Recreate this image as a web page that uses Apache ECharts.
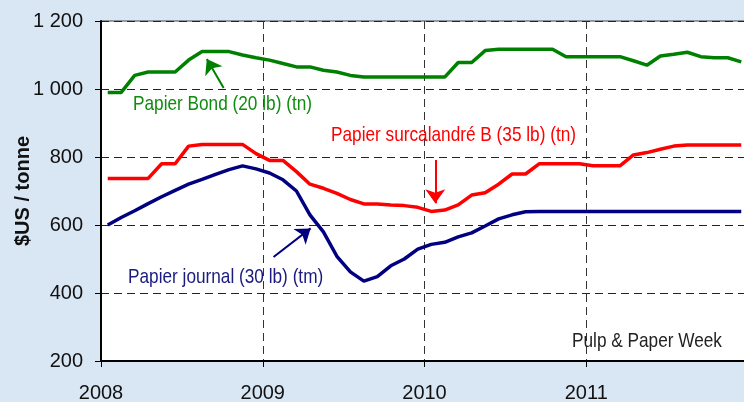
<!DOCTYPE html>
<html>
<head>
<meta charset="utf-8">
<script src="https://cdn.jsdelivr.net/npm/echarts@6/dist/echarts.min.js"></script>
<style>
  html, body { margin: 0; padding: 0; background: #d9e6f4; }
  #chart { width: 744px; height: 402px; }
</style>
</head>
<body>
<div id="chart"></div>
<script>
// prix mensuels, janvier 2008 -> décembre 2011
const bond = [990, 990, 1040, 1050, 1050, 1050, 1085, 1110, 1110, 1110, 1100, 1092,
  1085, 1075, 1065, 1065, 1055, 1050, 1040, 1035, 1035, 1035, 1035, 1035,
  1035, 1035, 1078, 1078, 1113, 1117, 1117, 1117, 1117, 1117, 1095, 1095,
  1095, 1095, 1095, 1083, 1070, 1097, 1102, 1108, 1095, 1092, 1092, 1080]
const surcalandre = [737, 737, 737, 737, 780, 780, 832, 837, 837, 837, 837, 810,
  790, 790, 757, 720, 708, 693, 675, 662, 662, 659, 657, 652,
  640, 644, 659, 688, 695, 720, 750, 750, 780, 780, 780, 780,
  774, 774, 774, 806, 813, 823, 832, 835, 835, 835, 835, 835]
const journal = [600, 622, 642, 663, 683, 702, 720, 734, 749, 763, 774, 765,
  753, 733, 700, 630, 580, 508, 462, 435, 448, 480, 500, 529,
  543, 549, 565, 577, 597, 618, 630, 639, 640, 640, 640, 640,
  640, 640, 640, 640, 640, 640, 640, 640, 640, 640, 640, 640]
const xTicks = ['2008', '2009', '2010', '2011', '']
const yTicks = ['200', '400', '600', '800', '1 000', '1 200']

// police condensée simulée (pas d'Arial Narrow installée)
const labelFont = '21px "Liberation Sans", Arial, sans-serif'

// point au milieu de chaque mois
const toPoints = arr => arr.map((v, i) => [i + 0.5, v])

const lineSeries = (name, data, color) => ({
  name: name,
  type: 'line',
  data: toPoints(data),
  symbol: 'none',
  lineStyle: { color: color, width: 3.5 },
  itemStyle: { color: color },
  z: 3
})

const arrow = (from, to, color) => ({
  silent: true,
  symbol: ['none', 'arrow'],
  symbolSize: [15, 14],
  label: { show: false },
  lineStyle: { color: color, width: 2, type: 'solid' },
  data: [[{ coord: from }, { coord: to }]]
})

const note = (text, x, y, color) => ({
  type: 'text',
  x: x,
  y: y,
  scaleX: 0.82,
  z: 10,
  style: { text: text, font: labelFont, fill: color, verticalAlign: 'top' }
})

const option = {
  backgroundColor: '#d9e6f4',
  animation: false,
  grid: {
    left: 101,
    right: -4,
    top: 21,
    bottom: 41,
    outerBoundsMode: 'none',
    containLabel: false,
    show: true,
    backgroundColor: '#ffffff',
    borderColor: '#444',
    borderWidth: 1
  },
  xAxis: {
    type: 'value',
    min: 0,
    max: 48,
    interval: 12,
    axisLine: { show: true, onZero: false, lineStyle: { color: '#000', width: 2 } },
    axisTick: { show: true, length: 6, lineStyle: { color: '#000' } },
    axisLabel: {
      margin: 22,
      fontSize: 20,
      fontFamily: 'Liberation Sans, Arial, sans-serif',
      color: '#111',
      formatter: v => xTicks[v / 12]
    },
    splitLine: {
      show: true,
      lineStyle: { color: '#333', width: 1, type: [8, 5] }
    }
  },
  yAxis: {
    type: 'value',
    min: 200,
    max: 1200,
    interval: 200,
    name: '$US / tonne',
    nameLocation: 'middle',
    nameGap: 68,
    nameMoveOverlap: false,
    nameTextStyle: {
      fontSize: 20,
      fontWeight: 'bold',
      fontFamily: 'Liberation Sans, Arial, sans-serif',
      color: '#111'
    },
    axisLine: { show: true, lineStyle: { color: '#000', width: 2 } },
    axisTick: { show: true, length: 6, lineStyle: { color: '#000' } },
    axisLabel: {
      margin: 18,
      fontSize: 20,
      fontFamily: 'Liberation Sans, Arial, sans-serif',
      color: '#111',
      formatter: v => yTicks[(v - 200) / 200]
    },
    splitLine: {
      show: true,
      lineStyle: { color: '#222', width: 1, type: [8, 5] }
    }
  },
  series: [
    Object.assign(lineSeries('Papier Bond (20 lb) (tn)', bond, '#008000'),
      { markLine: arrow([9.1, 1003], [7.85, 1088], '#008000') }),
    Object.assign(lineSeries('Papier surcalandré B (35 lb) (tn)', surcalandre, '#ff0000'),
      { markLine: arrow([24.8, 791], [24.8, 664], '#ff0000') }),
    Object.assign(lineSeries('Papier journal (30 lb) (tm)', journal, '#000080'),
      { markLine: arrow([12.8, 506], [15.55, 590], '#000080') })
  ],
  graphic: [
    note('Papier Bond (20 lb) (tn)', 133, 94, '#108c10'),
    note('Papier surcalandré B (35 lb) (tn)', 331, 125, '#ff0000'),
    note('Papier journal (30 lb) (tm)', 128, 267, '#1a1a80'),
    note('Pulp & Paper Week', 572, 331, '#222')
  ]
}

const myChart = echarts.init(document.getElementById('chart'))
myChart.setOption(option, true)
window.addEventListener('resize', () => {
  myChart.resize()
})
</script>
</body>
</html>
